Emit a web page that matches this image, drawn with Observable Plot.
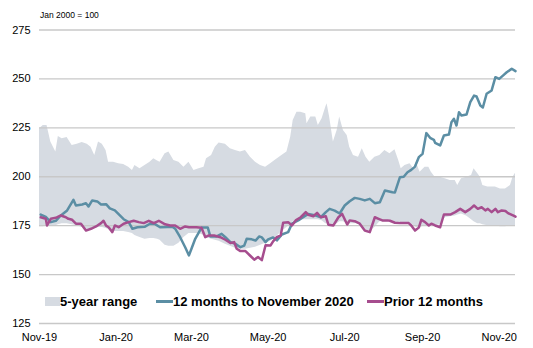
<!DOCTYPE html>
<html>
<head>
<meta charset="utf-8">
<script src="https://cdn.jsdelivr.net/npm/d3@7"></script>
<script src="https://cdn.jsdelivr.net/npm/@observablehq/plot@0.6"></script>
<style>
  html, body { margin: 0; padding: 0; background: #fff; }
  #wrap { position: relative; width: 533px; height: 348px; font-family: "Liberation Sans", Arial, sans-serif; }
  #wrap svg { position: absolute; left: 0; top: 0; }
  .note { position: absolute; left: 40px; top: 10px; font-size: 8.5px; color: #000; }
  .legend { position: absolute; top: 294px; font-size: 13px; font-weight: bold; color: #000; white-space: nowrap; display: flex; align-items: center; }
  .sw-box { display: inline-block; width: 15px; height: 9px; background: #d6dbe2; }
  .sw-line { display: inline-block; width: 17px; height: 3px; }
</style>
</head>
<body>
<div id="wrap">
  <div class="note">Jan 2000 = 100</div>
  <div class="legend" style="left:45px"><span class="sw-box"></span><span>5-year range</span></div>
  <div class="legend" style="left:156px"><span class="sw-line" style="background:#5b8ea4"></span><span>12 months to November 2020</span></div>
  <div class="legend" style="left:367px"><span class="sw-line" style="background:#a64d8e"></span><span>Prior 12 months</span></div>
</div>
<script>
// Days counted from 1 Nov 2019
const rangeDays = [0,3,6,9,13,15,18,22,26,30,34,38,41,44,47,50,53,55,59,63,67,71,74,76,80,84,88,91,94,96,100,103,107,111,115,119,123,127,131,133,137,140,143,148,152,156,160,164,168,172,176,180,184,188,193,197,200,202,205,208,212,213,216,220,222,225,228,229,231,234,237,239,242,245,247,250,254,257,260,263,267,271,275,279,283,286,288,291,295,298,300,303,307,310,312,315,319,323,327,331,333,336,340,344,346,349,351,353,357,363,367,371,375,377,379];
const rangeHigh = [224.5,226.2,226.2,217.7,212.6,220.6,219.4,220,216,216.6,217.5,216.6,215.1,210.9,217.7,216.6,213.4,207.4,207.4,206.6,206.3,204.9,203.2,205.8,204.1,205.8,207.4,209.2,208,207.4,211.7,212.6,208.3,207.4,204.9,207.4,203.2,204.1,204.9,209.2,210.9,215.1,217.2,216.6,214.3,213.4,212.6,213.4,210,207.4,205.8,204.9,206.6,208.5,210.9,212.6,220.2,228.8,233,233,232.2,227.1,230.5,230.5,226.2,229.6,235.6,237.3,230.5,217.7,223.6,230.5,223.6,221.1,215.1,210.9,210,214.3,210,207.4,210,210.9,213.4,211.7,213.8,208.3,204.1,205.8,206.6,204.1,207.4,202.3,204.9,204.9,202.3,199.8,199.8,199,198.1,198.1,195.5,199,199.8,200.7,204.1,201.5,199.8,195.5,194.7,194.7,193.8,193.8,195.5,199.8,201.8];
const rangeLow = [174.5,174.5,174.8,175,175,175.5,176,176,175.5,175,174,173,173,173.5,174,174,173.5,173,172,172,172,171.5,171,170,169,168,168.5,168.5,168,167.5,165,164.5,164.5,166,169,171,171,171,170,169,168,167.5,167,165.5,164.5,163.5,163,163,163.5,164,165,166,167,169,172,174,176,177,177,178,178,178,178,178,178,177.5,176,176,175.5,175,176,177,177,176,176,176,176,175,173,172,174,177,177,177,176.5,176.5,176.5,176.5,176.5,175,174,174,175,175,175,175,175.5,179,179.5,180,180.5,181,180,178,177,176,176,175.5,175,175,174.5,174.5,175,175,175];

const recentDays = [1,5,9,13,17,22,27,29,34,37,39,42,46,49,53,56,60,64,67,71,74,78,84,88,92,96,102,106,108,112,116,119,121,124,127,129,134,136,141,145,148,152,156,160,163,165,169,172,175,177,180,182,186,189,193,198,201,206,209,214,220,224,228,231,235,239,243,247,251,255,259,263,267,271,275,281,283,287,290,293,296,299,302,305,308,311,314,315,319,322,326,328,330,332,334,336,340,343,346,348,351,353,356,360,363,366,369,372,376,379];
const recentValues = [180.7,179.5,176.8,177.5,180.2,182.8,188.2,185.3,185.8,186.5,184.8,187.9,187.4,185.8,186,183.8,182.8,180.2,178.3,176.8,173.4,174.2,174.5,176,175.8,174.2,174.3,174.3,173.5,169.1,164,159.8,163.2,168.3,171.7,174,174,169.5,169.5,170.8,169.1,166.6,165.7,164,164.8,168.3,168,167.4,169.5,169,166.6,168,169,167.5,170.5,171.7,176,177.7,179,181,180.2,179.3,181.9,183.6,182.7,181.2,185.3,187.5,189.2,188.7,187.9,188.7,186.5,187,193,192.1,192,199.8,200,202.3,203.5,205.2,210,211.7,222.3,219.9,218.9,217.3,216,221.1,221.6,227.9,229.6,226.2,233,231.3,231.8,238.1,241.5,241,236.4,235.4,242.4,244.1,250.9,250,251.7,253.4,255.2,254];

const priorDays = [1,5,6,9,13,17,21,23,26,29,33,37,41,45,49,51,53,55,58,60,63,67,71,75,79,83,87,91,95,100,104,108,112,116,119,125,129,132,135,139,144,148,152,155,157,160,164,168,171,174,177,180,184,186,189,192,194,198,201,204,208,212,214,218,221,224,228,230,234,238,241,245,247,251,255,259,263,267,270,273,277,279,283,287,294,296,299,302,304,307,310,312,315,319,322,327,331,335,339,343,346,349,352,355,357,360,363,365,368,371,373,377,379];
const priorValues = [179.3,178.5,175.1,178.5,179,180.2,179.3,178.5,178,176,176,172.5,173.4,174.6,176.3,177.5,175,174.2,171.7,175.1,174.2,176,176.8,177.5,176.8,176.3,177.5,176.3,177.5,175.7,175.1,175.1,173.4,174.6,174.2,174.2,173.9,169.1,170,170,169.1,167.8,166.1,166.6,163.2,162,162,159.5,157.6,159,157.4,165,164.9,167,169.1,170,176.5,176.8,175.1,177.7,179.3,181.9,180.5,179.8,181.5,179.3,179.8,175.5,175.1,179.3,181,175.6,177.7,177.3,176,172.5,171.7,179.3,178.5,177.7,177.7,177.5,176.5,176.3,176.3,175.1,172.5,174,178,176.8,175.1,176,175.1,174.2,180.7,180.7,181.9,183.6,181.9,183.6,185.3,183.6,184.4,182.8,183.6,181.9,183.6,181.9,182.8,182.5,181.4,180.2,179.6];

const yTicks = [125,150,175,200,225,250,275];
const xTickDays = [0,61,121,182,243,305,366];
const xTickLabels = ["Nov-19","Jan-20","Mar-20","May-20","Jul-20","Sep-20","Nov-20"];

const day = d => new Date(Date.UTC(2019, 10, 1 + d));
const rangeData = rangeDays.map((d, i) => ({date: day(d), lo: rangeLow[i], hi: rangeHigh[i]}));
const recentData = recentDays.map((d, i) => ({date: day(d), v: recentValues[i]}));
const priorData = priorDays.map((d, i) => ({date: day(d), v: priorValues[i]}));
const xTicks = xTickDays.map(day);

const chart = Plot.plot({
  width: 533,
  height: 348,
  marginLeft: 39,
  marginRight: 18,
  marginTop: 29.5,
  marginBottom: 25,
  style: {fontFamily: "'Liberation Sans', Arial, sans-serif", fontSize: "11px", color: "#000", background: "#fff"},
  x: {type: "utc", domain: [day(0), day(379)]},
  y: {domain: [125, 275]},
  marks: [
    Plot.areaY(rangeData, {x: "date", y1: "lo", y2: "hi", fill: "#d6dbe2", curve: "linear"}),
    Plot.ruleY(yTicks, {stroke: "#c8c8c8", strokeWidth: 1.3}),
    Plot.line(recentData, {x: "date", y: "v", stroke: "#5b8ea4", strokeWidth: 2.5, strokeLinejoin: "round"}),
    Plot.line(priorData, {x: "date", y: "v", stroke: "#a64d8e", strokeWidth: 2.5, strokeLinejoin: "round"}),
    Plot.axisY({ticks: yTicks, tickSize: 0, tickPadding: 9, fontSize: 11, label: null}),
    Plot.axisX({ticks: xTicks, tickSize: 0, tickPadding: 10, fontSize: 11, label: null,
      tickFormat: d => xTickLabels[xTicks.findIndex(t => +t === +d)]})
  ]
});
document.getElementById("wrap").prepend(chart);
</script>
</body>
</html>
